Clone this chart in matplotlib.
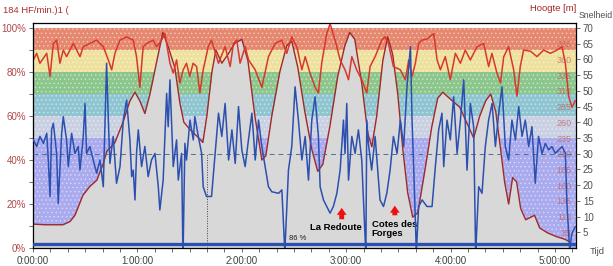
import numpy as np
import matplotlib
matplotlib.use('Agg')
import matplotlib.pyplot as plt
from matplotlib.ticker import MultipleLocator, FixedLocator

plt.rcParams['font.family'] = ['Liberation Sans', 'DejaVu Sans']
plt.rcParams['hatch.linewidth'] = 0.6

# --- data (time in minutes) ---
alt_t = [0, 6.9, 17.2, 21.2, 24.1, 28.7, 32.7, 36.7, 40.2, 42.5, 47.1, 51.7, 55.7, 58.6,
         61.4, 64.3, 67.2, 71.2, 74.6, 77.5, 81.5, 84.4, 86.7, 90.1, 94.2, 97.6, 99.9,
         102.8, 105.1, 108.5, 112.0, 116.0, 120.0, 123.5, 127.5, 131.5, 133.8, 137.2,
         141.8, 145.8, 148.7, 152.2, 156.2, 160.2, 163.6, 166.5, 170.5, 175.1, 179.2,
         182.0, 184.9, 188.9, 192.4, 194.7, 197.5, 201.0, 203.8, 206.7, 209.6, 212.5,
         215.3, 218.2, 221.1, 225.1, 229.1, 232.5, 235.4, 239.4, 245.2, 249.8, 253.2,
         256.7, 260.1, 263.0, 265.9, 268.7, 271.0, 273.3, 275.6, 277.9, 280.2, 283.1,
         286.0, 288.2, 291.1, 295.7, 300.9, 305.5, 308.3]
alt_m = [98, 97, 97, 102, 112, 144, 158, 168, 193, 214, 228, 260, 294, 308,
         294, 274, 305, 358, 403, 382, 347, 291, 260, 249, 238, 228, 270,
         340, 375, 354, 368, 386, 392, 358, 270, 200, 207, 270,
         340, 382, 389, 347, 277, 217, 182, 193, 252, 333, 382,
         403, 392, 322, 242, 221, 270, 358, 396, 368, 305, 217,
         148, 109, 116, 182, 252, 298, 308, 298, 284, 256, 235,
         270, 294, 305, 277, 217, 165, 130, 172, 165, 123, 105,
         109, 112, 92, 84, 78, 74, 70]

hr_t = [0.2, 2.1, 4.0, 7.9, 9.8, 11.7, 13.6, 15.5, 17.4, 19.3, 23.2, 27.0, 28.9, 32.7,
        36.6, 40.4, 43.3, 45.2, 47.1, 50.0, 53.8, 57.6, 59.5, 61.4, 63.3, 65.3, 69.1,
        71.0, 73.9, 75.8, 78.7, 80.6, 82.5, 84.4, 86.3, 88.2, 90.1, 92.0, 94.0, 95.9,
        97.8, 100.7, 102.6, 106.6, 110.4, 113.3, 115.2, 117.1, 119.0, 121.9, 123.9,
        127.7, 131.5, 135.3, 139.1, 143.0, 145.8, 148.7, 151.6, 154.5, 156.4, 159.2,
        162.1, 164.0, 165.9, 168.8, 170.7, 173.6, 176.5, 179.3, 181.3, 183.2, 186.0,
        188.9, 191.8, 193.7, 196.6, 200.4, 202.3, 204.2, 207.1, 211.1, 214.0, 215.9,
        217.8, 219.7, 221.6, 223.5, 226.4, 230.3, 232.2, 234.1, 236.9, 239.8, 242.7,
        245.6, 248.4, 251.3, 255.1, 259.0, 261.8, 263.7, 266.6, 268.6, 270.5, 273.3,
        276.2, 278.1, 280.0, 281.9, 285.8, 289.6, 293.4, 297.3, 301.1, 304.0, 305.9,
        307.8, 309.7, 311.6]
hr_pct = [85.5, 88.5, 84, 88.5, 78, 93, 94.5, 84, 90, 87, 93, 87, 91.5, 93,
          94.5, 91.5, 85.5, 81, 88.5, 94.5, 96, 94.5, 87, 73, 91.5, 93, 94.5,
          91.5, 94.5, 97.5, 84, 79.5, 85.5, 75, 81, 84, 78, 84, 82.5, 70.5,
          81, 91.5, 94.5, 84, 91.5, 82.5, 93, 94.5, 84, 91.5, 85.5,
          81, 73, 87, 93, 94.5, 88.5, 96, 91.5, 81, 87, 79.5,
          73, 70.5, 84, 97.5, 102, 94.5, 85.5, 81, 76.5, 87, 81,
          76.5, 70.5, 82.5, 87, 94.5, 96, 93, 82.5, 81, 76.5, 85.5,
          78, 84, 93, 94.5, 95, 97.5, 85.5, 81, 87, 76.5, 88.5,
          84, 90, 85.5, 91.5, 93, 82.5, 88.5, 79.5, 75, 87, 91.5,
          81, 69, 82.5, 90, 89.5, 87, 90, 88.5, 90, 91.5, 84,
          69, 64, 67]

spd_t = [0.2, 2.1, 4.0, 6.0, 7.9, 8.8, 9.8, 10.7, 11.7, 13.6, 14.5, 16.5, 17.4, 19.3,
         20.3, 22.2, 24.1, 26.0, 27.0, 28.9, 29.9, 30.8, 32.7, 34.6, 36.6, 38.5, 40.4,
         42.3, 43.3, 44.2, 46.1, 48.0, 50.0, 51.9, 53.8, 55.7, 56.7, 57.6, 58.6, 59.5,
         60.5, 62.4, 64.3, 66.2, 68.1, 70.1, 72.0, 72.9, 74.8, 76.8, 77.7, 78.7, 80.6,
         82.5, 83.5, 85.4, 86.1, 86.3, 87.3, 88.2, 90.2, 92.1, 93.0, 95.0, 96.9, 97.8,
         99.7, 102.6, 104.7, 106.6, 108.5, 110.4, 112.4, 114.3, 116.2, 118.1, 120.0,
         121.9, 123.8, 125.8, 127.7, 129.6, 131.5, 133.4, 135.3, 137.2, 141.1, 143.0,
         144.6, 144.8, 146.8, 148.7, 150.6, 152.5, 154.5, 156.4, 158.3, 160.2, 162.1,
         164.0, 165.0, 166.9, 168.8, 170.7, 172.6, 174.6, 176.5, 178.4, 179.3, 180.3,
         181.3, 183.2, 185.1, 187.0, 188.9, 191.1, 191.3, 191.8, 192.7, 194.6, 196.6,
         198.5, 199.4, 201.4, 203.3, 205.2, 207.1, 209.2, 211.1, 213.0, 214.9, 216.9,
         217.8, 218.8, 219.7, 220.2, 220.4, 221.6, 223.6, 226.4, 229.3, 231.2, 233.1,
         235.0, 236.0, 237.9, 239.8, 241.7, 243.7, 245.6, 247.5, 249.4, 251.3, 253.2,
         254.3, 254.5, 256.1, 258.0, 259.9, 261.8, 263.8, 265.7, 267.6, 269.5, 271.4,
         273.3, 275.2, 277.2, 279.1, 281.0, 282.9, 284.8, 286.7, 288.6, 290.5, 292.5,
         294.4, 296.3, 298.2, 300.1, 302.0, 304.0, 305.9, 306.8, 308.3, 308.5, 309.7,
         311.6]
spd_kmh = [34.4, 32.3, 35.5, 33.3, 36.5, 28.0, 16.4, 37.6, 39.7, 30.1, 14.2, 36.5, 41.8, 34.4,
           25.9, 36.5, 30.1, 32.3, 24.8, 35.5, 46.0, 30.1, 32.3, 28.0, 23.8, 28.0, 19.5,
           58.8, 40.7, 26.9, 35.5, 20.6, 25.9, 40.7, 47.1, 34.4, 22.7, 24.8, 15.3, 30.1,
           37.6, 25.9, 32.3, 22.7, 28.0, 30.1, 19.5, 12.1, 21.6, 49.2, 38.6, 53.5, 25.9,
           34.4, 21.6, 30.1, 0, 0, 33.3, 28.0, 40.7, 34.4, 41.8, 35.5, 30.1, 19.5,
           16.4, 16.4, 30.1, 42.9, 35.5, 46.0, 28.0, 37.6, 26.9, 45.0, 31.2,
           25.9, 34.4, 42.9, 28.0, 40.7, 32.3, 25.9, 19.5, 17.9, 17.4, 18.5,
           0, 0, 24.8, 32.3, 51.3, 40.7, 28.0, 35.5, 21.6, 40.7, 48.1,
           35.5, 19.5, 15.3, 13.2, 11.1, 13.2, 17.4, 24.8, 40.7, 30.1, 46.0,
           21.6, 35.5, 30.1, 37.6, 28.0, 0, 0, 40.7, 33.3, 24.8, 35.5,
           21.6, 15.3, 13.2, 17.4, 24.8, 35.5, 30.1, 40.7, 32.3, 51.3, 64.1,
           40.7, 24.8, 8.9, 0, 0, 13.2, 15.3, 13.2, 13.2, 25.9, 37.6,
           42.9, 25.9, 40.7, 34.4, 48.1, 30.1, 40.7, 53.5, 24.8, 46.0, 38.6,
           0, 0, 19.5, 17.4, 32.3, 40.7, 46.0, 32.3, 42.9, 51.3, 32.3,
           28.0, 40.7, 34.4, 45.0, 35.5, 40.7, 32.3, 38.6, 20.6, 35.5, 30.1,
           33.3, 31.2, 32.3, 30.1, 31.2, 32.3, 30.1, 14.2, 0, 0, 4.7,
           6.8]

avg_speed = 30
pause_t = 100
zones = [0, 50, 60, 70, 80, 90, 100]
zone_colors = ['#aaaaee', '#c9d0e2', '#8ec5d0', '#8cc68c', '#eee19e', '#e5886f']
notes = [(174.0, 9.1, 'La Redoute', 'center'), (194.7, 8.6, 'Cotes des\nForges', 'left')]
arrows = [(177.4, 11.8, 19.5), (207.9, 13.6, 20.5)]

T_MAX = 312
PCT_TOP = 102.3

fig = plt.figure(figsize=(6.13, 2.66), dpi=100)
ax = fig.add_axes([0.0538, 0.0677, 0.8858, 0.8459])
ax.set_xlim(0, T_MAX)
ax.set_ylim(0, PCT_TOP)

# heart rate zones
for lo, hi, c in zip(zones[:-1], zones[1:], zone_colors):
    ax.axhspan(lo, hi, facecolor=c, edgecolor='#ffffff70', hatch='....', lw=0, zorder=0)

ax.yaxis.set_major_locator(FixedLocator([0, 20, 40, 60, 80, 100]))
ax.yaxis.set_minor_locator(FixedLocator([10, 30, 50, 70, 90]))
ax.set_yticklabels(['0%', '20%', '40%', '60%', '80%', '100%'])
ax.tick_params(axis='y', which='both', labelsize=7, colors='#555555',
               length=3, width=0.6, pad=2)
ax.tick_params(axis='y', which='both', labelcolor='#b04848')
ax.xaxis.set_major_locator(MultipleLocator(60))
ax.xaxis.set_minor_locator(MultipleLocator(10))
ax.set_xticklabels([f'{int(h)}:00:00' for h in ax.get_xticks() / 60])
ax.tick_params(axis='x', which='both', labelsize=7, colors='#555555',
               length=3, width=0.6, pad=3)
ax.tick_params(axis='x', which='both', labelcolor='#404040')
for s in ax.spines.values():
    s.set_color('#888888')
    s.set_linewidth(0.8)
ax.spines['left'].set_color('#555555')

# altitude
ax_alt = ax.twinx()
ax_alt.set_ylim(60, 60 + 3.5 * PCT_TOP)
ax_alt.fill_between(alt_t, alt_m, 60, color='#d8d8d8', lw=0)
ax_alt.plot(alt_t, alt_m, color='#a02828', lw=1.0)
ax_alt.yaxis.set_major_locator(FixedLocator(list(range(85, 386, 25))))
ax_alt.tick_params(axis='y', direction='in', length=0, pad=-3, labelsize=6.5,
                   labelcolor='#c06060')
for lab in ax_alt.get_yticklabels():
    lab.set_horizontalalignment('right')
    lab.set_alpha(0.75)
ax_alt.set_xlim(0, T_MAX)

# heart rate
ax_hr = ax.twinx()
ax_hr.set_ylim(0, PCT_TOP)
ax_hr.plot(hr_t, hr_pct, color='#d8382a', lw=1.1)
ax_hr.set_yticks([])
ax_hr.set_xlim(0, T_MAX)

# speed
ax_s = ax.twinx()
ax_s.set_ylim(0, 70 * PCT_TOP / 100)
ax_s.set_xlim(0, T_MAX)
ax_s.axhline(avg_speed, color='#4a7290', lw=0.7, ls=(0, (5, 4)))
ax_s.vlines(pause_t, 0, avg_speed, color='#444444', lw=0.7, ls=(0, (1, 1.5)))
ax_s.plot(spd_t, spd_kmh, color='#2c50b0', lw=1.1)
ax_s.axhline(1.3, color='#2c50b0', lw=2.4)
ax_s.yaxis.set_major_locator(FixedLocator(list(range(5, 71, 5))))
ax_s.tick_params(axis='y', labelsize=7, colors='#555555',
                 length=3, width=0.6, pad=2)
ax_s.tick_params(axis='y', labelcolor='#505050')
for s in ax_s.spines.values():
    s.set_visible(False)

for t, p, txt, ha in notes:
    ax_hr.text(t, p, txt, ha=ha, va='center', fontsize=6.8, fontweight='bold',
               color='black', linespacing=1.1)
for t, p0, p1 in arrows:
    ax_hr.annotate('', xy=(t, p1), xytext=(t, p0),
                   arrowprops=dict(arrowstyle='simple,head_width=0.7,tail_width=0.35',
                                   color='#ee1010', lw=0))
ax_hr.text(152.2, 4.1, '86 %', ha='center', va='center', fontsize=5.5, color='#222222')

fig.text(0.005, 0.962, '184 HF/min.)1 (', fontsize=6.8, color='#a83030', va='center')
fig.text(0.902, 0.968, 'Hoogte [m]', fontsize=6.8, color='#a02828', ha='center', va='center')
fig.text(0.944, 0.94, 'Snelheid', fontsize=6.3, color='#505050', va='center')
fig.text(0.962, 0.056, 'Tijd', fontsize=6.8, color='#505050', va='center')

fig.savefig('out.png', dpi=100)
